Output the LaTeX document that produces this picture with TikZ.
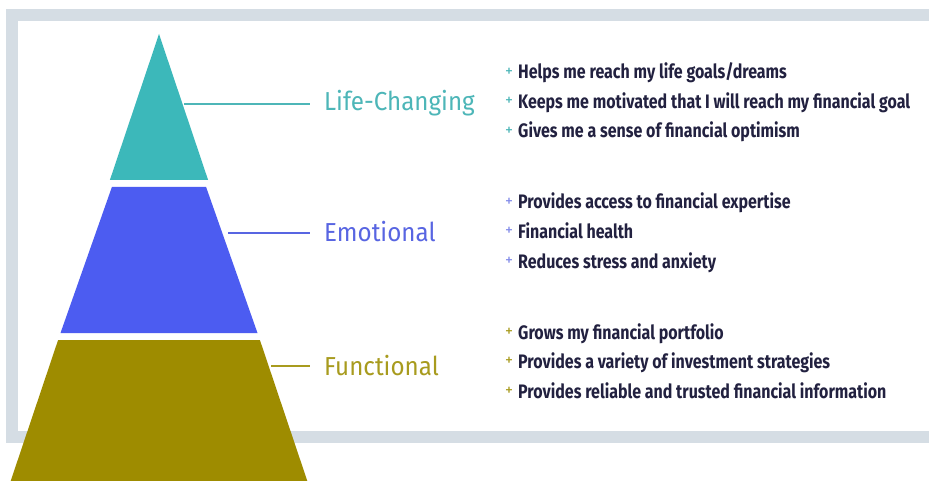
\documentclass[tikz,border=0pt]{standalone}
\usepackage{fontspec}
\setmainfont{Fira Sans}
\newfontfamily\labelfont[FakeStretch=0.93]{Fira Sans}
\newfontfamily\itemfont[FakeStretch=0.82]{Fira Sans}
\newfontfamily\plusfont{Fira Sans}
\definecolor{frame}{HTML}{D5DDE4}
\definecolor{tealc}{HTML}{3CB8BA}
\definecolor{bluec}{HTML}{4C5CF1}
\definecolor{olivec}{HTML}{9E8C00}
\definecolor{tealt}{HTML}{4DB6B8}
\definecolor{bluet}{HTML}{5865E2}
\definecolor{olivet}{HTML}{A89B1E}
\definecolor{itemc}{HTML}{222140}
\tikzset{
  lead/.style={line width=1.6pt},
  tierlabel/.style={anchor=base west, inner sep=0pt, font=\labelfont\fontsize{26}{30}\selectfont},
  item/.style={anchor=base west, inner sep=0pt, text=itemc, font=\itemfont\bfseries\fontsize{19.5}{22}\selectfont},
  plus/.style={inner sep=0pt, font=\plusfont\fontsize{16}{16}\selectfont},
}
\begin{document}
\begin{tikzpicture}[x=1pt,y=-1pt]
\useasboundingbox (0,0) rectangle (929,481);
\fill[white] (0,0) rectangle (929,481);
% frame
\draw[frame, line width=12pt] (12,15) rectangle (960,437);
% pyramid
\fill[tealc] (159,34) -- (208.1,180) -- (109.9,180) -- cycle;
\fill[bluec] (206.1,187) -- (257.5,333) -- (60.5,333) -- (111.9,187) -- cycle;
\fill[olivec] (259.9,340) -- (310,489) -- (8,489) -- (58.1,340) -- cycle;
% anchors on the pyramid edges
\coordinate (lc) at (184,104);
\coordinate (em) at (228,233);
\coordinate (fu) at (271,366);
\coordinate (lce) at (310,104);
\coordinate (eme) at (310,233);
\coordinate (fue) at (310,366);
% labels
\node[tierlabel, text=tealt] (lcl) at (324,111) {Life-Changing};
\node[tierlabel, text=bluet] (eml) at (324,242) {Emotional};
\node[tierlabel, text=olivet] (ful) at (324,375) {Functional};
\draw[lead, tealt] (lc) -- (lce);
\draw[lead, bluet] (em) -- (eme);
\draw[lead, olivet] (fu) -- (fue);
% plus marks
\node[plus, text=tealt] (p1) at (509,72) {+};
\node[plus, text=tealt] (p2) at (509,101.5) {+};
\node[plus, text=tealt] (p3) at (509,131) {+};
\node[plus, text=bluet!75] (p4) at (509,202) {+};
\node[plus, text=bluet!75] (p5) at (509,231.5) {+};
\node[plus, text=bluet!75] (p6) at (509,261) {+};
\node[plus, text=olivet] (p7) at (509,332) {+};
\node[plus, text=olivet] (p8) at (509,361.5) {+};
\node[plus, text=olivet] (p9) at (509,391) {+};
% items
\node[item] (i1) at (518,79) {Helps me reach my life goals/dreams};
\node[item] (i2) at (518,108.5) {Keeps me motivated that I will reach my financial goal};
\node[item] (i3) at (518,138) {Gives me a sense of financial optimism};
\node[item] (i4) at (518,209) {Provides access to financial expertise};
\node[item] (i5) at (518,238.5) {Financial health};
\node[item] (i6) at (518,268) {Reduces stress and anxiety};
\node[item] (i7) at (518,339) {Grows my financial portfolio};
\node[item] (i8) at (518,368.5) {Provides a variety of investment strategies};
\node[item] (i9) at (518,398) {Provides reliable and trusted financial information};
\end{tikzpicture}
\end{document}
